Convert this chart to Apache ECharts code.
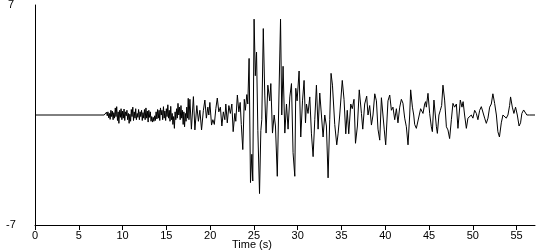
<!DOCTYPE html>
<html>
<head>
<meta charset="utf-8">
<script src="https://cdn.jsdelivr.net/npm/echarts@6/dist/echarts.min.js"></script>
<style>
html,body{margin:0;padding:0;background:#fff;}
#c{width:550px;height:250px;}
</style>
</head>
<body>
<div id="c"></div>
<script>
// Tick labels
const xTicks = [0, 5, 10, 15, 20, 25, 30, 35, 40, 45, 50, 55];
const yTicks = [-7, 7];
const xName = 'Time (s)';
const yName = 'cm/s/s';

// Early part of the record (s, cm/s/s)
const timeA = [0, 7.90, 8.00, 8.08, 8.17, 8.25, 8.33, 8.42, 8.50, 8.58, 8.67, 8.75, 8.83, 8.92,
  9.00, 9.08, 9.17, 9.25, 9.33, 9.42, 9.50, 9.58, 9.67, 9.75, 9.83, 9.92,
  10.00, 10.08, 10.17, 10.25, 10.33, 10.42, 10.50, 10.58, 10.67, 10.75, 10.83, 10.92,
  11.00, 11.08, 11.17, 11.25, 11.33, 11.42, 11.50, 11.58, 11.67, 11.75, 11.83, 11.92,
  12.00, 12.08, 12.17, 12.25, 12.33, 12.42, 12.50, 12.58, 12.67, 12.75, 12.83, 12.92,
  13.00, 13.08, 13.17, 13.25, 13.33, 13.42, 13.50, 13.58, 13.67, 13.75, 13.83, 13.92,
  14.00, 14.08, 14.17, 14.25, 14.33, 14.42, 14.50, 14.58, 14.67, 14.75, 14.83, 14.92,
  15.00, 15.08, 15.17, 15.25, 15.33, 15.42, 15.50, 15.58, 15.67, 15.75, 15.83, 15.92,
  16.00, 16.08, 16.17, 16.25, 16.33, 16.42, 16.50, 16.58, 16.67, 16.75, 16.83, 16.92,
  17.00, 17.08, 17.17, 17.25, 17.33, 17.42, 17.50, 17.58];
const accA = [0, 0, 0.08, -0.12, 0.18, -0.05, 0.2, -0.18, 0.1, -0.28, 0.3, -0.1, 0.25, -0.3,
  0.15, -0.2, 0.45, -0.1, 0.53, -0.35, 0.2, -0.53, 0.3, -0.15, 0.4, -0.3,
  0.25, -0.2, 0.38, -0.35, 0.2, -0.05, 0.3, -0.3, 0.1, -0.53, 0.05, -0.4,
  0.35, -0.1, 0.5, -0.35, 0.2, -0.2, 0.4, -0.3, 0.1, -0.15, 0.35, -0.3,
  0.2, -0.1, 0.3, -0.35, 0.15, -0.2, 0.35, -0.3, 0.45, -0.2, 0.25, -0.45,
  0.3, -0.15, 0.2, -0.4, -0.1, -0.45, -0.15, -0.4, -0.05, -0.35, 0.2, -0.25,
  0.35, -0.2, 0.3, -0.35, 0.45, 0.0, 0.3, -0.3, 0.53, -0.2, 0.25, -0.35,
  0.4, -0.1, 0.65, -0.2, 0.3, -0.4, 0.55, -0.3, 0.1, -0.6, -0.1, -0.85,
  0.2, -0.3, 0.4, -0.2, 0.74, 0.0, 0.5, -0.3, 0.6, -0.2, 0.3, -0.6,
  0.2, -0.75, 0.1, -0.4, 0.5, -0.2, 1.06, -0.3];

// Strong-motion and coda part of the record (s, cm/s/s)
const timeB = [17.69, 17.86, 18.09, 18.26, 18.48, 18.66, 18.83, 19.02, 19.23, 19.40, 19.57, 19.74, 19.85, 19.97,
  20.16, 20.31, 20.48, 20.65, 20.82, 20.99, 21.17, 21.34, 21.51, 21.68, 21.79, 21.96, 22.14, 22.31, 22.48, 22.63,
  22.82, 22.93, 23.11, 23.28, 23.43, 23.56, 23.73, 23.90, 24.02, 24.19, 24.30, 24.45, 24.61, 24.76, 24.87, 25.02,
  25.16, 25.30, 25.45, 25.64, 25.79, 25.90, 26.07, 26.24, 26.39, 26.59, 26.81, 26.93, 27.12, 27.31, 27.46, 27.67,
  28.04, 28.18, 28.33, 28.53, 28.72, 28.90, 29.10, 29.29, 29.47, 29.67, 29.78, 29.93, 30.16, 30.35, 30.55, 30.73,
  30.89, 31.00, 31.18, 31.38, 31.57, 31.76, 31.95, 32.14, 32.33, 32.52, 32.71, 32.90, 33.09, 33.28, 33.47, 33.66,
  33.81, 33.97, 34.12, 34.23, 34.46, 34.61, 34.80, 35.09, 35.29, 35.49, 35.66, 35.83, 36.06, 36.23, 36.43, 36.60,
  36.82, 37.03, 37.28, 37.43, 37.65, 37.88, 38.03, 38.22, 38.42, 38.60, 38.80, 38.99, 39.17, 39.37, 39.56, 39.71,
  39.88, 40.05, 40.31, 40.51, 40.70, 40.88, 41.08, 41.27, 41.45, 41.65, 41.84, 42.02, 42.22, 42.41, 42.60, 42.79,
  42.90, 43.10, 43.25, 43.36, 43.55, 43.76, 44.04, 44.24, 44.31, 44.50, 44.61, 44.69, 44.88, 45.07, 45.26, 45.38,
  45.56, 45.84, 45.95, 46.13, 46.29, 46.44, 46.59, 46.78, 46.98, 47.16, 47.35, 47.55, 47.73, 47.92, 48.12, 48.30,
  48.57, 48.76, 48.89, 49.06, 49.26, 49.44, 49.63, 49.83, 50.01, 50.21, 50.40, 50.58, 50.78, 50.97, 51.15, 51.35,
  51.54, 51.73, 51.92, 52.11, 52.29, 52.49, 52.69, 52.86, 53.04, 53.25, 53.44, 53.63, 53.82, 54.01, 54.20, 54.31,
  54.51, 54.69, 54.88, 55.08, 55.28, 55.45, 55.60, 55.80, 55.99, 56.17, 56.48, 57.10];
const accB = [1.0, -0.9, 1.17, -0.95, 0.6, -0.4, 0.3, -0.95, 0.3, 0.95, -0.2, 0.5, 0.0, 0.8,
  -0.64, -0.3, -0.6, 0.4, 1.08, 0.2, 0.5, -0.7, 0.2, -0.3, 0.7, -0.5, 0.6, 0.1, 0.7, -1.06,
  0.1, -0.4, 1.27, 0.2, 0.8, -0.6, -2.2, 1.0, 0.3, 1.3, 0.7, 3.6, -4.3, -2.5, -4.2, 6.1,
  2.5, 4.0, -1.0, -5.0, -1.0, -0.3, 5.5, 1.27, -1.15, 1.9, 0.9, 2.0, -1.15, 0.0, -0.7, -3.9,
  6.1, 0.0, 3.1, -1.15, 0.7, -0.9, 1.15, 2.0, -2.4, -3.9, 1.7, 0.9, 2.8, -1.4, 0.9, 2.2,
  -0.5, 0.7, 0.1, 1.15, -1.2, -2.65, -0.3, 1.9, -0.9, 1.4, 1.5, -1.4, 0.0, -0.7, -4.0, -0.3,
  2.65, 1.9, 1.8, -0.6, -1.9, -1.2, 0.0, 2.2, 1.0, -1.2, 0.3, -1.2, 0.7, 0.4, 1.0, -1.8,
  -0.7, 1.6, 0.1, -0.9, 0.7, 1.2, 0.0, 0.6, -0.64, 0.0, 1.35, 0.9, -0.9, -1.6, 1.1, 1.05,
  -0.9, -1.9, 0.9, 1.27, 0.3, 0.5, -0.3, 0.4, -0.5, 0.5, 1.0, 0.75, -0.2, -0.75, -1.9, 0.0,
  1.6, 0.5, 0.0, -0.6, -0.85, -0.8, 0.4, 0.4, 0.1, 0.7, 0.85, 0.5, 1.38, 0.1, -0.75, -1.06,
  0.95, -0.75, -1.17, 0.0, 0.3, 0.6, 1.9, 0.95, -0.75, -0.95, -1.5, -0.3, 0.74, 0.5, 0.7, -0.85,
  0.95, 0.5, 0.85, 0.0, -0.85, -0.2, -0.2, 0.0, -0.2, 0.3, 0.1, -0.3, 0.3, 0.53, 0.5, -0.2,
  -0.53, -0.2, 0.5, 0.7, 1.35, 0.74, 0.0, -1.06, -1.4, -0.5, 0.0, 0.0, -0.2, 0.0, 0.6, 1.15,
  0.5, 0.1, 0.5, 0.0, -0.7, -0.5, 0.1, 0.32, 0.2, 0.0, 0.0, 0.0];

function pairs(t, v) {
  const n = Math.min(t.length, v.length);
  const out = [];
  for (let i = 0; i < n; i++) out.push([t[i], v[i]]);
  return out;
}
const data = pairs(timeA, accA).concat(pairs(timeB, accB));

const FONT = 'Liberation Sans, Arial, sans-serif';
const chart = echarts.init(document.getElementById('c'), null, { renderer: 'canvas' });
chart.setOption({
  animation: false,
  backgroundColor: '#fff',
  grid: { left: 35, right: 15, top: 5, bottom: 25, containLabel: false, outerBoundsMode: 'none' },
  xAxis: {
    type: 'value',
    min: 0,
    max: 57.1,
    axisLine: { onZero: false, lineStyle: { color: '#000', width: 1 } },
    axisTick: { show: true, length: 5, customValues: xTicks, lineStyle: { color: '#000' } },
    axisLabel: { customValues: xTicks, color: '#000', fontSize: 11, fontFamily: FONT, margin: 5 },
    splitLine: { show: false }
  },
  yAxis: {
    type: 'value',
    min: -7,
    max: 7,
    name: yName,
    nameLocation: 'middle',
    nameRotate: 90,
    nameGap: 21,
    nameTextStyle: { color: '#000', fontSize: 11, fontFamily: FONT },
    axisLine: { show: true, lineStyle: { color: '#000', width: 1 } },
    axisTick: { show: false },
    axisLabel: { customValues: yTicks, color: '#000', fontSize: 11, fontFamily: FONT, margin: 24, align: 'center' },
    splitLine: { show: false }
  },
  graphic: [{
    type: 'text', left: 232, top: 239,
    style: { text: xName, fill: '#000', font: '11px ' + FONT }
  }],
  series: [{
    type: 'line',
    data: data,
    showSymbol: false,
    symbol: 'none',
    sampling: null,
    lineStyle: { color: '#000', width: 1 },
    emphasis: { disabled: true }
  }]
});
</script>
</body>
</html>
